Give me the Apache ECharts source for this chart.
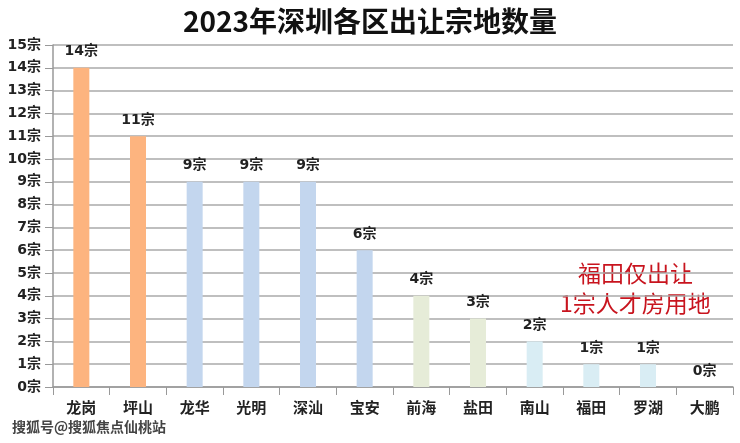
<!DOCTYPE html>
<html lang="zh">
  <head>
    <meta charset="utf-8" />
    <title>2023年深圳各区出让宗地数量</title>
    <style>
      html, body { margin: 0; padding: 0; background: #fff; }
      #chart-container { width: 740px; height: 443px; }
    </style>
  </head>
  <body>
    <div id="chart-container"></div>
    <script src="https://cdn.jsdelivr.net/npm/echarts@6/dist/echarts.min.js"></script>
    <script>
      var districts = ["龙岗", "坪山", "龙华", "光明", "深汕", "宝安", "前海", "盐田", "南山", "福田", "罗湖", "大鹏"];
      var counts = [14, 11, 9, 9, 9, 6, 4, 3, 2, 1, 1, 0];
      var barColors = ["#fdb47f", "#fdb47f", "#c3d6ee", "#c3d6ee", "#c3d6ee", "#c3d6ee",
                       "#e6ecd8", "#e6ecd8", "#d9edf4", "#d9edf4", "#d9edf4", "#d9edf4"];
      var noteLines = ["福田仅出让", "1宗人才房用地"];

      var font = '"DejaVu Sans", "Noto Sans CJK SC", sans-serif';
      var cjk = '"Noto Sans CJK SC", "Noto Sans", sans-serif';
      var dom = document.getElementById("chart-container");
      var myChart = echarts.init(dom, null, { renderer: "canvas" });

      var option = {
        animation: false,
        backgroundColor: "#fff",
        title: {
          text: "2023年深圳各区出让宗地数量",
          left: "center",
          top: 2,
          textStyle: { fontFamily: cjk, fontSize: 28, fontWeight: "bold", color: "#111" }
        },
        grid: { left: 53, right: 7, top: 45, bottom: 56 },
        xAxis: {
          type: "category",
          data: districts,
          axisLine: { lineStyle: { color: "#999", width: 1.5 } },
          axisTick: { show: true, length: 8, lineStyle: { color: "#999" } },
          axisLabel: {
            margin: 13,
            fontFamily: cjk,
            fontSize: 15,
            fontWeight: "bold",
            color: "#222"
          }
        },
        yAxis: {
          type: "value",
          min: 0,
          max: 15,
          interval: 1,
          axisLine: { show: true, lineStyle: { color: "#999", width: 1.5 } },
          axisTick: { show: true, length: 8, lineStyle: { color: "#999" } },
          splitLine: { lineStyle: { color: "#aaa", width: 1.5 } },
          axisLabel: {
            margin: 12,
            formatter: "{value}宗",
            fontFamily: font,
            fontSize: 14,
            fontWeight: "bold",
            color: "#222"
          }
        },
        graphic: [
          {
            type: "text",
            left: 560,
            top: 258,
            style: {
              text: noteLines.join("\n"),
              fill: "#c8141e",
              font: '23px ' + cjk,
              lineHeight: 30,
              textAlign: "center"
            }
          },
          {
            type: "text",
            left: 12,
            top: 420,
            style: {
              text: "搜狐号@搜狐焦点仙桃站",
              fill: "#444",
              font: 'bold 14px ' + cjk
            }
          }
        ],
        series: [
          {
            type: "bar",
            barWidth: 16,
            data: counts.map(function (v, i) {
              return { value: v, itemStyle: { color: barColors[i] } };
            }),
            label: {
              show: true,
              position: "top",
              distance: 9,
              formatter: "{c}宗",
              fontFamily: font,
              fontSize: 14,
              fontWeight: 600,
              color: "#222"
            }
          }
        ]
      };

      myChart.setOption(option);
      window.addEventListener("resize", myChart.resize);
    </script>
  </body>
</html>
